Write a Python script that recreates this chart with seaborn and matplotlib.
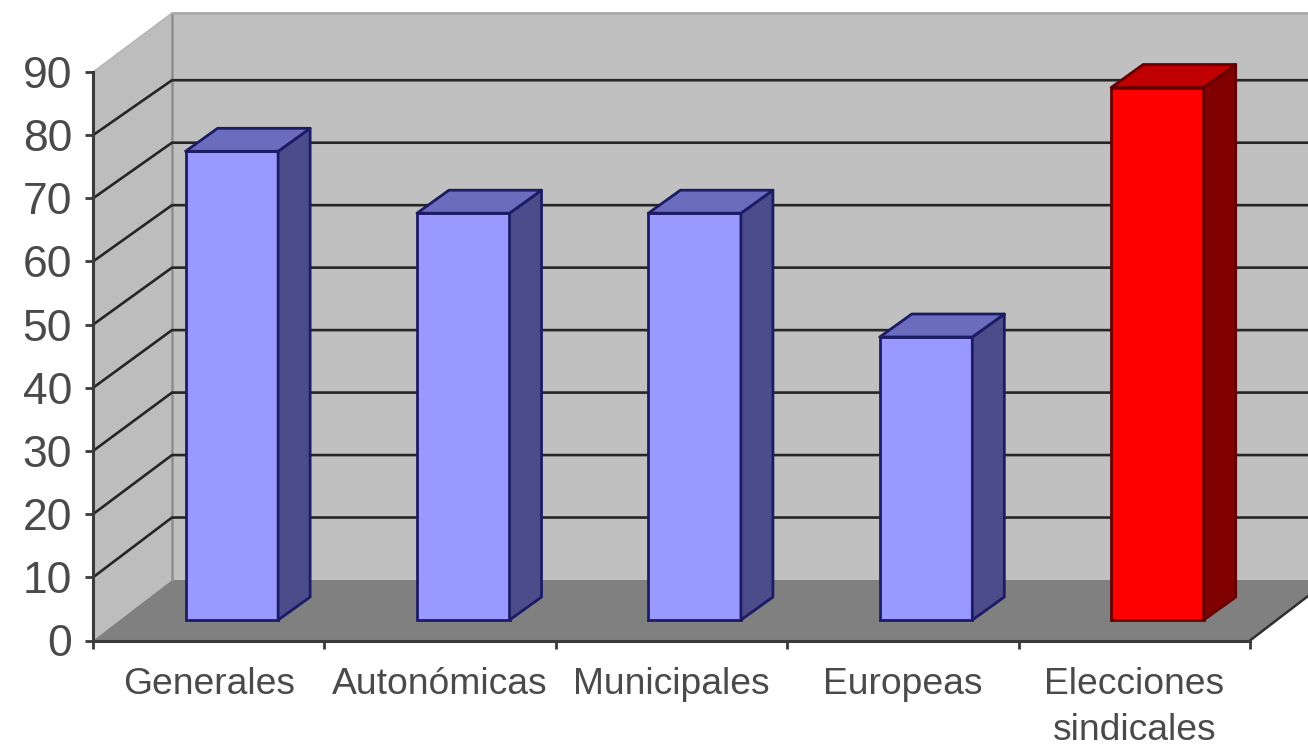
import matplotlib
matplotlib.use("Agg")
import matplotlib.pyplot as plt
import numpy as np
import pandas as pd
import seaborn as sns
from matplotlib.patches import Polygon

categories = ["Generales", "Autonómicas", "Municipales", "Europeas", "Elecciones\nsindicales"]
values = [74.2, 64.4, 64.4, 44.8, 84.3]
y_ticks = [0, 10, 20, 30, 40, 50, 60, 70, 80, 90]
front_colors = ["#9999FF", "#9999FF", "#9999FF", "#9999FF", "#FF0000"]
top_colors = ["#6C6CBE", "#6C6CBE", "#6C6CBE", "#6C6CBE", "#C00000"]
side_colors = ["#4C4C8A", "#4C4C8A", "#4C4C8A", "#4C4C8A", "#800000"]
edge_colors = ["#1C1C66", "#1C1C66", "#1C1C66", "#1C1C66", "#660000"]

W, H = 1308, 747
sns.set_theme(style="white")
plt.rcParams["font.family"] = ["Liberation Sans", "DejaVu Sans"]

fig = plt.figure(figsize=(W / 100, H / 100), dpi=100, facecolor="white")
L, R, T, B = 93, 1250, 72, 640.5
ax = fig.add_axes([L / W, 1 - B / H, (R - L) / W, (B - T) / H])
ax.patch.set_visible(False)

df = pd.DataFrame({"cat": categories, "val": values})
sns.barplot(data=df, x="cat", y="val", hue="cat", palette=front_colors, legend=False,
            width=0.40, ax=ax, zorder=5, linewidth=2, dodge=False, saturation=1)
ax.set_xlim(-0.5, 4.5)
ax.set_ylim(0, 90)
ax.set_xlabel("")
ax.set_ylabel("")

px = (R - L) / 5          # pixels per category
py = (B - T) / 90         # pixels per value unit
wall_dx = 79 / px         # depth of the walls
wall_dy = 60.5 / py
back_scale = 0.989        # back wall is slightly smaller
wall_top = (B - 13) / py
bar_shift = 0.10          # bars stand inside the floor
bar_base = 20.5 / py
bar_dx = 32 / px
bar_dy = 23 / py

x0, x1 = -0.5, 4.5
wall = "#C0C0C0"
ax.add_patch(Polygon([(x0 + wall_dx, wall_dy), (x1 + wall_dx, wall_dy), (x1 + wall_dx, wall_top), (x0 + wall_dx, wall_top)],
                     closed=True, fc=wall, ec="none", zorder=0, clip_on=False))
ax.add_patch(Polygon([(x0, 0), (x0 + wall_dx, wall_dy), (x0 + wall_dx, wall_top), (x0, 90)],
                     closed=True, fc="#BDBDBD", ec="none", zorder=0, clip_on=False))
ax.add_patch(Polygon([(x0, 0), (x1, 0), (x1 + wall_dx, wall_dy), (x0 + wall_dx, wall_dy)],
                     closed=True, fc="#808080", ec="none", zorder=0.5, clip_on=False))
# wall borders
ax.plot([x0 + wall_dx, x0 + wall_dx], [wall_dy, wall_top], color="#8E8E8E", lw=1.8, zorder=0.6, clip_on=False)
ax.plot([x0 + wall_dx, x1 + wall_dx], [wall_top, wall_top], color="#A8A8A8", lw=2.0, zorder=0.6, clip_on=False)
ax.plot([x0, x0 + wall_dx], [90, wall_top], color="#B4B4B4", lw=1.0, zorder=0.6, clip_on=False)
ax.plot([x1, x1 + wall_dx], [0, wall_dy], color="#303030", lw=1.8, zorder=2, clip_on=False)

for v in y_ticks[1:-1]:
    yb = wall_dy + v * back_scale
    ax.plot([x0, x0 + wall_dx, x1 + wall_dx], [v, yb, yb], color="#262626", lw=1.9,
            zorder=2, clip_on=False, solid_joinstyle="miter")

for i, bar in enumerate([p for p in ax.patches if p.get_zorder() == 5]):
    h = bar.get_height()
    xl = bar.get_x() + bar_shift
    xr = xl + bar.get_width()
    yb = bar_base
    yt = bar_base + h
    bar.set_x(xl)
    bar.set_y(yb)
    bar.set_edgecolor(edge_colors[i])
    bar.set_clip_on(False)
    ax.add_patch(Polygon([(xr, yb), (xr + bar_dx, yb + bar_dy), (xr + bar_dx, yt + bar_dy), (xr, yt)],
                         closed=True, fc=side_colors[i], ec=edge_colors[i], lw=2, zorder=5, clip_on=False,
                         joinstyle="round"))
    ax.add_patch(Polygon([(xl, yt), (xl + bar_dx, yt + bar_dy), (xr + bar_dx, yt + bar_dy), (xr, yt)],
                         closed=True, fc=top_colors[i], ec=edge_colors[i], lw=2, zorder=5, clip_on=False,
                         joinstyle="round"))

for s in ["top", "right"]:
    ax.spines[s].set_visible(False)
for s in ["left", "bottom"]:
    ax.spines[s].set_color("#3A3A3A")
    ax.spines[s].set_linewidth(2.2)

ax.set_yticks(y_ticks)
ax.set_yticklabels([str(v) for v in y_ticks])
ax.tick_params(axis="y", length=6, width=2, color="#3A3A3A", labelsize=32, labelcolor="#4A4A4A", pad=9, left=True)
ax.set_xticks(range(5))
ax.set_xticklabels(categories, linespacing=1.4, ha="center", va="top")
ax.tick_params(axis="x", which="major", length=0, labelsize=26.8, labelcolor="#4A4A4A", pad=19)
ax.set_xticks(np.arange(-0.5, 5.0, 1.0), minor=True)
ax.tick_params(axis="x", which="minor", length=6, width=2, color="#3A3A3A", bottom=True)
for lab in ax.get_xticklabels():
    lab.set_x(lab.get_position()[0])

fig.savefig("out.png", dpi=100, facecolor="white")
